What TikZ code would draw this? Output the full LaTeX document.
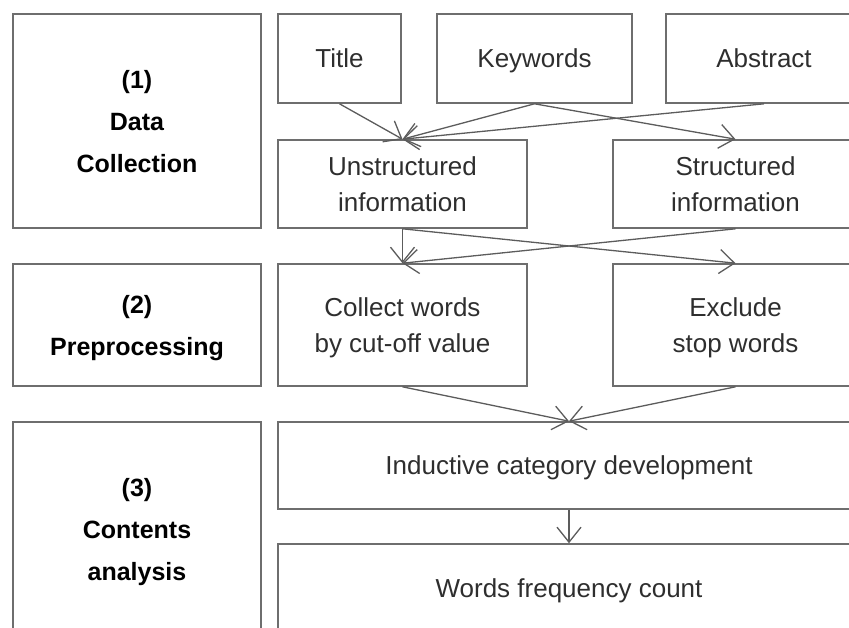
\documentclass[tikz,border=0pt]{standalone}
\usepackage{fontspec}
\setmainfont{Liberation Sans}
\usetikzlibrary{arrows.meta}

\definecolor{boxgray}{HTML}{6E6E6E}
\definecolor{linegray}{HTML}{5C5C5C}
\definecolor{textgray}{HTML}{2E2E2E}

\begin{document}
\begin{tikzpicture}[x=1pt,y=-1pt,
  stage/.style={draw=boxgray,line width=1.6pt,inner sep=0pt,minimum width=248pt,align=center,
    text depth=0pt,font=\fontsize{25}{42}\selectfont\bfseries,text=black},
  item/.style={draw=boxgray,line width=1.6pt,inner sep=0pt,align=center,
    text depth=0pt,font=\fontsize{26}{36}\selectfont,text=textgray},
  flow/.style={draw=linegray,line width=1.3pt,-{Straight Barb[length=15pt,width=24pt]}}]
\useasboundingbox (0,0) rectangle (849,627);
\clip (0,0) rectangle (849,627);
% stages on the left
\node[stage,minimum height=214pt] (s1) at (137,121) {(1)\\Data\\Collection};
\node[stage,minimum height=122pt] (s2) at (137,325) {(2)\\Preprocessing};
\node[stage,minimum height=214pt] (s3) at (137,529) {(3)\\Contents\\analysis};
% sources
\node[item,minimum width=123pt,minimum height=89pt] (title) at (339.5,58.5) {Title};
\node[item,minimum width=195pt,minimum height=89pt] (kw) at (534.5,58.5) {Keywords};
\node[item,minimum width=196pt,minimum height=89pt] (abs) at (764,58.5) {Abstract};
% information
\node[item,minimum width=249pt,minimum height=88pt] (unstr) at (402.5,184) {Unstructured\\information};
\node[item,minimum width=245pt,minimum height=88pt] (str) at (735.5,184) {Structured\\information};
% preprocessing
\node[item,minimum width=249pt,minimum height=122pt] (collect) at (402.5,325) {Collect words\\by cut-off value};
\node[item,minimum width=245pt,minimum height=122pt] (stop) at (735.5,325) {Exclude\\stop words};
% analysis
\node[item,minimum width=582pt,minimum height=87pt] (induct) at (569,465.5) {Inductive category development};
\node[item,minimum width=582pt,minimum height=88pt] (freq) at (569,588) {Words frequency count};

\draw[flow] (title.south) -- (unstr.north);
\draw[flow] (kw.south) -- (unstr.north);
\draw[flow] (kw.south) -- (str.north);
\draw[flow] (abs.south) -- (unstr.north);
\draw[flow] (unstr.south) -- (collect.north);
\draw[flow] (unstr.south) -- (stop.north);
\draw[flow] (str.south) -- (collect.north);
\draw[flow] (collect.south) -- (induct.north);
\draw[flow] (stop.south) -- (induct.north);
\draw[flow] (induct.south) -- (freq.north);
\end{tikzpicture}
\end{document}
